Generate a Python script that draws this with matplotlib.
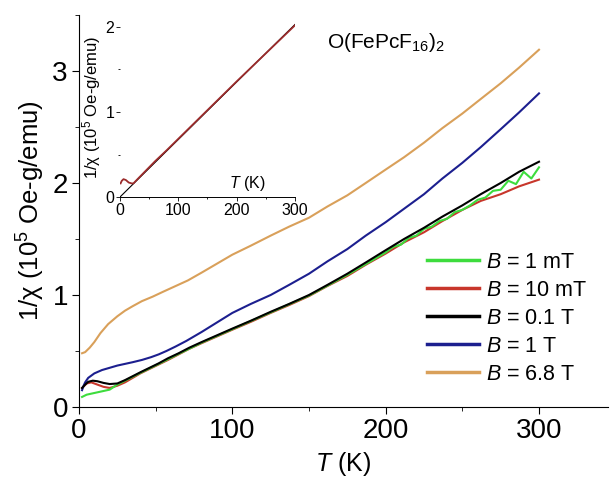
import numpy as np
import matplotlib
matplotlib.use('Agg')
from matplotlib import pyplot as plt
from matplotlib.ticker import MultipleLocator

plt.rcParams['font.family'] = ['Liberation Sans', 'DejaVu Sans']
plt.rcParams['mathtext.fontset'] = 'custom'
plt.rcParams['mathtext.rm'] = 'Liberation Sans'
plt.rcParams['mathtext.it'] = 'Liberation Sans:italic'

''' Data read off the figure '''
# B = 1 mT (green)
T_1mT = [2, 5, 10, 15, 20, 25, 30, 40, 52, 65, 80, 100, 125, 150, 175, 190,
         200, 205, 210, 215, 220, 225, 230, 235, 240, 245, 250, 255, 260, 265,
         270, 275, 280, 285, 290, 295, 300]
y_1mT = [0.09, 0.11, 0.125, 0.14, 0.155, 0.20, 0.235, 0.305, 0.385, 0.475, 0.575,
         0.695, 0.845, 0.995, 1.18, 1.30, 1.38, 1.43, 1.45, 1.51, 1.53, 1.59, 1.61,
         1.66, 1.68, 1.74, 1.76, 1.80, 1.85, 1.87, 1.93, 1.94, 2.02, 1.99, 2.10,
         2.04, 2.14]
# B = 10 mT (red)
T_10mT = [2, 5, 8, 12, 16, 20, 25, 30, 35, 40, 46, 52, 58, 65, 72, 80, 90, 100,
          112, 125, 137, 150, 162, 175, 187, 200, 212, 225, 237, 250, 262, 275,
          287, 300]
y_10mT = [0.17, 0.21, 0.22, 0.20, 0.18, 0.17, 0.19, 0.22, 0.26, 0.30, 0.34, 0.38,
          0.42, 0.47, 0.52, 0.57, 0.63, 0.69, 0.76, 0.84, 0.91, 0.99, 1.08, 1.17,
          1.27, 1.37, 1.47, 1.56, 1.66, 1.76, 1.84, 1.90, 1.97, 2.03]
# B = 0.1 T (black)
T_01T = [2, 4, 6, 9, 12, 16, 20, 25, 30, 35, 40, 46, 52, 58, 65, 72, 80, 90, 100,
         112, 125, 137, 150, 162, 175, 187, 200, 212, 225, 237, 250, 262, 275,
         287, 300]
y_01T = [0.17, 0.20, 0.225, 0.235, 0.23, 0.215, 0.205, 0.21, 0.24, 0.275, 0.31,
         0.35, 0.39, 0.435, 0.48, 0.53, 0.58, 0.64, 0.70, 0.77, 0.85, 0.92, 1.00,
         1.09, 1.19, 1.29, 1.40, 1.50, 1.60, 1.70, 1.80, 1.90, 2.00, 2.10, 2.19]
# B = 1 T (blue)
T_1T = [2, 3, 4, 6, 8, 10, 15, 20, 25, 30, 35, 41, 47, 52, 57, 63, 70, 80, 90,
        100, 112, 125, 137, 150, 162, 175, 187, 200, 212, 225, 237, 250, 262,
        275, 287, 300]
y_1T = [0.15, 0.19, 0.22, 0.26, 0.28, 0.30, 0.33, 0.35, 0.37, 0.385, 0.40, 0.42,
        0.445, 0.47, 0.50, 0.54, 0.59, 0.67, 0.755, 0.84, 0.92, 1.00, 1.09, 1.19,
        1.30, 1.41, 1.53, 1.65, 1.77, 1.90, 2.04, 2.18, 2.32, 2.48, 2.63, 2.80]
# B = 6.8 T (orange)
T_68T = [2, 4, 7, 10, 14, 19, 25, 30, 35, 41, 48, 55, 63, 71, 80, 90, 100, 112,
         125, 137, 150, 162, 175, 187, 200, 212, 225, 237, 250, 262, 275, 287, 300]
y_68T = [0.48, 0.49, 0.53, 0.58, 0.66, 0.74, 0.81, 0.86, 0.90, 0.945, 0.985, 1.03,
         1.08, 1.13, 1.20, 1.28, 1.36, 1.44, 1.53, 1.61, 1.69, 1.79, 1.89, 2.00,
         2.12, 2.23, 2.36, 2.49, 2.62, 2.75, 2.89, 3.03, 3.19]

# inset: 10 mT data and Curie-Weiss line
T_ins = [1, 3, 6, 10, 15, 20, 23, 30, 40, 60, 80, 120, 160, 200, 250, 300]
y_ins = [0.16, 0.19, 0.21, 0.20, 0.17, 0.16, 0.16, 0.21, 0.28, 0.42, 0.55, 0.82,
         1.09, 1.36, 1.69, 2.02]
T_fit = [0, 300]
y_fit = [0.0, 2.03]

labels = ['$B$ = 1 mT', '$B$ = 10 mT', '$B$ = 0.1 T', '$B$ = 1 T', '$B$ = 6.8 T']
colors = ['#3ddc3d', '#c8362b', '#000000', '#1c1f8f', '#d9a05a']

''' Plot '''
fig = plt.figure(figsize=(6.11, 4.87), dpi=100)
ax = fig.add_axes([79/611, 80/487, 529/611, 392/487])

l_red, = ax.plot(T_10mT, y_10mT, color=colors[1], lw=1.5, zorder=2)
l_grn, = ax.plot(T_1mT, y_1mT, color=colors[0], lw=1.5, zorder=3)
l_blk, = ax.plot(T_01T, y_01T, color=colors[2], lw=1.5, zorder=4)
l_blu, = ax.plot(T_1T, y_1T, color=colors[3], lw=1.5, zorder=2)
l_org, = ax.plot(T_68T, y_68T, color=colors[4], lw=1.5, zorder=2)

ax.set_xlim(0, 345)
ax.set_ylim(0, 3.5)
ax.spines['top'].set_visible(False)
ax.spines['right'].set_visible(False)
ax.xaxis.set_major_locator(MultipleLocator(100))
ax.xaxis.set_minor_locator(MultipleLocator(50))
ax.yaxis.set_major_locator(MultipleLocator(1))
ax.yaxis.set_minor_locator(MultipleLocator(0.5))
ax.tick_params(which='major', direction='out', length=5, labelsize=20, pad=3)
ax.tick_params(which='minor', direction='out', length=3)
ax.set_xlabel('$T$ (K)', fontsize=18, labelpad=4)
ax.set_ylabel('1/χ (10$^5$ Oe-g/emu)', fontsize=18.5, labelpad=4)

fig.text(386/611, 1 - 42/487, 'O(FePcF$_{16}$)$_2$', fontsize=15,
         ha='center', va='center')

ax.legend([l_grn, l_red, l_blk, l_blu, l_org], labels, frameon=False,
          fontsize=15.5, handlelength=2.4, handletextpad=0.35, labelspacing=0.32,
          loc='upper left', borderpad=0, borderaxespad=0,
          bbox_to_anchor=(427/611, 1 - 252/487), bbox_transform=fig.transFigure)
for line in ax.get_legend().get_lines():
    line.set_linewidth(2.5)

# inset
ins = fig.add_axes([120/611, (487-197)/487, 175/611, 178.5/487])
ins.plot(T_fit, y_fit, color='black', lw=0.8)
ins.plot(T_ins, y_ins, color='#9b2b2b', lw=1.3)
ins.set_xlim(0, 300)
ins.set_ylim(0, 2.1)
ins.patch.set_alpha(0)
for s in ['top', 'right', 'left']:
    ins.spines[s].set_visible(False)
ins.spines['bottom'].set_linewidth(0.7)
ins.xaxis.set_major_locator(MultipleLocator(100))
ins.xaxis.set_minor_locator(MultipleLocator(50))
ins.yaxis.set_major_locator(MultipleLocator(1))
ins.yaxis.set_minor_locator(MultipleLocator(0.5))
ins.tick_params(which='major', direction='out', length=3, width=0.6,
                labelsize=11.5, pad=1)
ins.tick_params(which='minor', direction='out', length=1.5, width=0.6)
ins.set_ylabel('1/χ (10$^5$ Oe-g/emu)', fontsize=12, labelpad=2)
ins.text(218, 0.05, '$T$ (K)', fontsize=11.5, ha='center', va='bottom')

fig.savefig('out.png', dpi=100)
